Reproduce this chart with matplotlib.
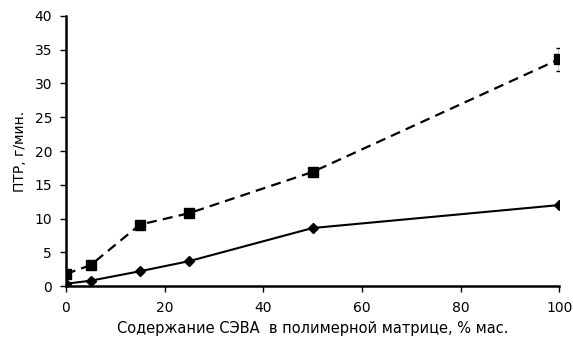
import matplotlib.pyplot as plt
import matplotlib.ticker as ticker

plt.rcParams['font.family'] = ['DejaVu Sans']

content = [0, 5, 15, 25, 50, 100]
mfr_seva = [1.8, 3.1, 9.1, 10.8, 16.9, 33.6]
mfr_seva_err = [0.2, 0.2, 0.3, 0.3, 0.4, 1.7]
mfr_base = [0.35, 0.8, 2.2, 3.7, 8.6, 12.0]

fig = plt.figure(figsize=(5.73, 3.39), dpi=100)
ax = fig.add_axes([0.115, 0.156, 0.861, 0.797])

ax.errorbar(content, mfr_seva, yerr=mfr_seva_err, color="black", linestyle=(0, (4.5, 2.8)),
            linewidth=1.6, marker="s", markersize=7.5, capsize=2.2, elinewidth=1, capthick=1)
ax.plot(content, mfr_base, color="black", linewidth=1.5, marker="D", markersize=5.5)

ax.set_xlim(0, 100)
ax.set_ylim(0, 40)
ax.xaxis.set_major_locator(ticker.MultipleLocator(20))
ax.yaxis.set_major_locator(ticker.MultipleLocator(5))

for side in ["top", "right"]:
    ax.spines[side].set_visible(False)
for side in ["left", "bottom"]:
    ax.spines[side].set_linewidth(1.8)
ax.tick_params(direction="out", length=4, width=1, labelsize=10)
ax.tick_params(axis="x", pad=7)
ax.tick_params(axis="y", pad=6)

ax.set_xlabel("Содержание СЭВА  в полимерной матрице, % мас.", fontsize=10.5, labelpad=4)
ax.set_ylabel("ПТР, г/мин.", fontsize=10, labelpad=5.5)

fig.savefig("out.png", dpi=100)
